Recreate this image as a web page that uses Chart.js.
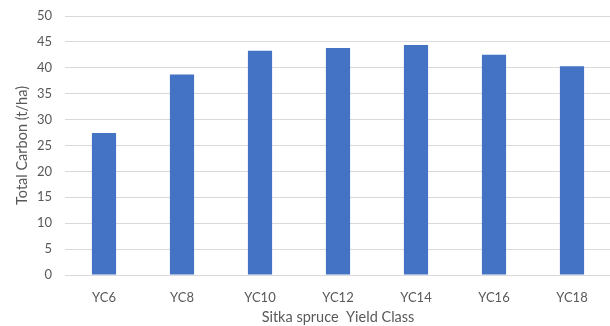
<!DOCTYPE html>
<html>
<head>
<meta charset="utf-8">
<script src="https://cdn.jsdelivr.net/npm/chart.js@4/dist/chart.umd.min.js"></script>
<style>
  html, body { margin: 0; padding: 0; background: #fff; overflow: hidden; }
  #wrap { position: relative; width: 611px; height: 326px; }
</style>
</head>
<body>
<div id="wrap"><canvas id="carbonChart" width="611" height="326"></canvas></div>
<script>
// ---- Data ----
const yieldClasses = ['YC6', 'YC8', 'YC10', 'YC12', 'YC14', 'YC16', 'YC18'];
const totalCarbon  = [27.4, 38.7, 43.3, 43.8, 44.4, 42.5, 40.3];
const yTicks       = [0, 5, 10, 15, 20, 25, 30, 35, 40, 45, 50];

const textGrey = '#595959';
const gridGrey = '#d9d9d9';
const tickFont  = { family: 'Lato, "Open Sans", sans-serif', size: 13 };
const titleFont = { family: 'Lato, "Open Sans", sans-serif', size: 14.5 };

new Chart(document.getElementById('carbonChart'), {
    type: 'bar',
    data: {
        labels: yieldClasses,
        datasets: [{
            data: totalCarbon,
            backgroundColor: '#4472c4',
            borderWidth: 0,
            categoryPercentage: 1,
            barPercentage: 0.31,
        }]
    },
    options: {
        responsive: false,
        animation: false,
        layout: { padding: { top: 16, right: 0, bottom: 0, left: 0 } },
        plugins: { legend: { display: false }, tooltip: { enabled: false } },
        scales: {
            x: {
                grid: { display: false, drawTicks: false },
                border: { display: false },
                ticks: { color: textGrey, font: tickFont, padding: 15 },
                title: {
                    display: true,
                    text: 'Sitka spruce  Yield Class',
                    color: textGrey,
                    font: titleFont,
                    padding: { top: 4, bottom: 0 },
                },
                afterFit: s => { s.height = 51; },
            },
            y: {
                min: 0,
                max: 50,
                afterBuildTicks: s => { s.ticks = yTicks.map(v => ({ value: v })); },
                grid: { color: gridGrey, lineWidth: 1, drawTicks: false },
                border: { display: false },
                ticks: { color: textGrey, font: tickFont, padding: 13 },
                title: {
                    display: true,
                    text: 'Total Carbon (t/ha)',
                    color: textGrey,
                    font: titleFont,
                    padding: { top: 14, bottom: 0 },
                },
                // fixed axis width; let the top label hang over the plot edge
                afterFit: s => {
                    s.width = 65;
                    s.paddingTop = 0;
                    s.paddingBottom = 0;
                },
            }
        }
    }
});
</script>
</body>
</html>
